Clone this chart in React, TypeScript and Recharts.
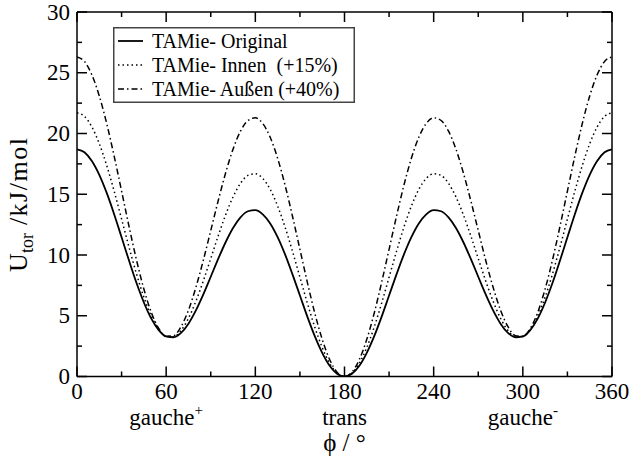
import React from "react";
import { LineChart, Line, XAxis, YAxis, Legend, Label } from "recharts";

// torsion angle grid, 5° steps
const phi = [
  0, 5, 10, 15, 20, 25, 30, 35, 40, 45, 50, 55, 60, 65, 70, 75, 80, 85, 90,
  95, 100, 105, 110, 115, 120, 125, 130, 135, 140, 145, 150, 155, 160, 165, 170, 175, 180,
  185, 190, 195, 200, 205, 210, 215, 220, 225, 230, 235, 240, 245, 250, 255, 260, 265, 270,
  275, 280, 285, 290, 295, 300, 305, 310, 315, 320, 325, 330, 335, 340, 345, 350, 355, 360,
];

// U_tor in kJ/mol
const uOriginal = [
  18.7, 18.46, 17.74, 16.6, 15.11, 13.36, 11.46, 9.54, 7.71, 6.09, 4.76, 3.82, 3.3, 3.23, 3.59, 4.35, 5.44, 6.76, 8.21,
  9.68, 11.05, 12.22, 13.09, 13.6, 13.69, 13.35, 12.6, 11.47, 10.05, 8.41, 6.67, 4.93, 3.32, 1.95, 0.89, 0.23, 0,
  0.23, 0.89, 1.95, 3.32, 4.93, 6.67, 8.41, 10.05, 11.47, 12.6, 13.35, 13.69, 13.6, 13.09, 12.22, 11.05, 9.68, 8.21,
  6.76, 5.44, 4.35, 3.59, 3.23, 3.3, 3.82, 4.76, 6.09, 7.71, 9.54, 11.46, 13.36, 15.11, 16.6, 17.74, 18.46, 18.7,
];

const uInnen = [
  21.7, 21.41, 20.54, 19.16, 17.36, 15.25, 12.96, 10.65, 8.46, 6.53, 4.96, 3.87, 3.3, 3.28, 3.79, 4.79, 6.19, 7.87, 9.71,
  11.57, 13.3, 14.78, 15.89, 16.55, 16.69, 16.3, 15.4, 14.03, 12.3, 10.3, 8.17, 6.04, 4.07, 2.39, 1.09, 0.28, 0,
  0.28, 1.09, 2.39, 4.07, 6.04, 8.17, 10.3, 12.3, 14.03, 15.4, 16.3, 16.69, 16.55, 15.89, 14.78, 13.3, 11.57, 9.71,
  7.87, 6.19, 4.79, 3.79, 3.28, 3.3, 3.87, 4.96, 6.53, 8.46, 10.65, 12.96, 15.25, 17.36, 19.16, 20.54, 21.41, 21.7,
];

const uAussen = [
  26.3, 25.93, 24.83, 23.09, 20.81, 18.14, 15.26, 12.36, 9.61, 7.2, 5.27, 3.95, 3.3, 3.36, 4.1, 5.46, 7.34, 9.57, 12.01,
  14.46, 16.75, 18.71, 20.19, 21.07, 21.29, 20.82, 19.69, 17.96, 15.75, 13.19, 10.47, 7.75, 5.22, 3.06, 1.4, 0.36, 0,
  0.36, 1.4, 3.06, 5.22, 7.75, 10.47, 13.19, 15.75, 17.96, 19.69, 20.82, 21.29, 21.07, 20.19, 18.71, 16.75, 14.46, 12.01,
  9.57, 7.34, 5.46, 4.1, 3.36, 3.3, 3.95, 5.27, 7.2, 9.61, 12.36, 15.26, 18.14, 20.81, 23.09, 24.83, 25.93, 26.3,
];

const xTicks = [0, 30, 60, 90, 120, 150, 180, 210, 240, 270, 300, 330, 360];
const yTicks = [0, 2.5, 5, 7.5, 10, 12.5, 15, 17.5, 20, 22.5, 25, 27.5, 30];

// conformer names under the minima
const conformers: Record<number, [string, string]> = {
  60: ["gauche", "+"],
  180: ["trans", ""],
  300: ["gauche", "-"],
};

const series = [
  { key: "original", name: "TAMie- Original", dash: undefined as string | undefined, width: 1.8 },
  { key: "innen", name: "TAMie- Innen  (+15%)", dash: "1.5 3", width: 1.5 },
  { key: "aussen", name: "TAMie- Außen (+40%)", dash: "6 3 1.5 3", width: 1.5 },
];

const rows = phi.map((p, i) => ({
  phi: p,
  original: uOriginal[i],
  innen: uInnen[i],
  aussen: uAussen[i],
}));

const FONT = "'Liberation Serif', 'Times New Roman', serif";
const AXIS = { stroke: "#000", strokeWidth: 1.5 };

const BottomTick = (props: any) => {
  const { x, y, payload } = props;
  const v = payload.value;
  const major = v % 60 === 0;
  const sub = conformers[v];
  return (
    <g>
      <line x1={x} y1={y} x2={x} y2={y - (major ? 10 : 5)} stroke="#000" strokeWidth={1.5} />
      {major && (
        <text x={x} y={y + 22.5} textAnchor="middle" fontSize={23} fontFamily={FONT} fill="#000">
          {v}
        </text>
      )}
      {sub && (
        <text x={x} y={y + 48.5} textAnchor="middle" fontSize={23} fontFamily={FONT} fill="#000">
          {sub[0]}
          {sub[1] && (
            <tspan fontSize={15} dy={-10}>
              {sub[1]}
            </tspan>
          )}
        </text>
      )}
    </g>
  );
};

const TopTick = (props: any) => {
  const { x, y, payload } = props;
  const major = payload.value % 60 === 0;
  return <line x1={x} y1={y} x2={x} y2={y + (major ? 10 : 5)} stroke="#000" strokeWidth={1.5} />;
};

const LeftTick = (props: any) => {
  const { x, y, payload } = props;
  const v = payload.value;
  const major = v % 5 === 0;
  return (
    <g>
      <line x1={x} y1={y} x2={x + (major ? 10 : 5)} y2={y} stroke="#000" strokeWidth={1.5} />
      {major && (
        <text x={x - 7} y={y + 7.5} textAnchor="end" fontSize={23} fontFamily={FONT} fill="#000">
          {v}
        </text>
      )}
    </g>
  );
};

const RightTick = (props: any) => {
  const { x, y, payload } = props;
  const major = payload.value % 5 === 0;
  return <line x1={x} y1={y} x2={x - (major ? 10 : 5)} y2={y} stroke="#000" strokeWidth={1.5} />;
};

const XTitle = (props: any) => {
  const { viewBox } = props;
  return (
    <text
      x={viewBox.x + viewBox.width / 2}
      y={viewBox.y + 74.5}
      textAnchor="middle"
      fontSize={25}
      fontFamily={FONT}
      fill="#000"
    >
      ϕ / °
    </text>
  );
};

const YTitle = (props: any) => {
  const { viewBox } = props;
  const cx = 27;
  const cy = viewBox.y + viewBox.height / 2 + 10;
  return (
    <text
      x={cx}
      y={cy}
      transform={`rotate(-90 ${cx} ${cy})`}
      textAnchor="middle"
      fontSize={26}
      fontFamily={FONT}
      fill="#000"
      xmlSpace="preserve"
      style={{ whiteSpace: "pre" }}
    >
      U
      <tspan fontSize={18} dy={6}>
        tor
      </tspan>
      <tspan dy={-6} letterSpacing={1.5}>
        {" /kJ/mol"}
      </tspan>
    </text>
  );
};

const LegendBox = () => (
  <svg width={242} height={76} style={{ display: "block" }}>
    <rect x={0.75} y={0.75} width={240.5} height={74.5} fill="#fff" stroke="#444" strokeWidth={1.5} />
    {series.map((s, i) => {
      const cy = 14 + i * 24;
      return (
        <g key={s.key}>
          <line x1={5} y1={cy} x2={30} y2={cy} stroke="#000" strokeWidth={s.width} strokeDasharray={s.dash} />
          <text
            x={39}
            y={cy + 6.5}
            fontSize={20}
            fontFamily={FONT}
            fill="#000"
            xmlSpace="preserve"
            style={{ whiteSpace: "pre" }}
          >
            {s.name}
          </text>
        </g>
      );
    })}
  </svg>
);

export default function App() {
  return (
    <div style={{ position: "absolute", left: 0, top: 0, width: 631, height: 462, background: "#fff" }}>
      <LineChart width={631} height={462} data={rows} margin={{ top: 11, right: 18, bottom: 84.5, left: 76 }}>
        <XAxis
          xAxisId="b"
          dataKey="phi"
          type="number"
          domain={[0, 360]}
          allowDataOverflow
          ticks={xTicks}
          interval={0}
          height={1}
          tickSize={0}
          tickMargin={0}
          tickLine={false}
          axisLine={AXIS}
          tick={BottomTick}
        >
          <Label content={XTitle} />
        </XAxis>
        <XAxis
          xAxisId="t"
          orientation="top"
          dataKey="phi"
          type="number"
          domain={[0, 360]}
          allowDataOverflow
          ticks={xTicks}
          interval={0}
          height={1}
          tickSize={0}
          tickMargin={0}
          tickLine={false}
          axisLine={AXIS}
          tick={TopTick}
        />
        <YAxis
          yAxisId="l"
          type="number"
          domain={[0, 30]}
          allowDataOverflow
          ticks={yTicks}
          interval={0}
          width={1}
          tickSize={0}
          tickMargin={0}
          tickLine={false}
          axisLine={AXIS}
          tick={LeftTick}
        >
          <Label content={YTitle} />
        </YAxis>
        <YAxis
          yAxisId="r"
          orientation="right"
          type="number"
          domain={[0, 30]}
          allowDataOverflow
          ticks={yTicks}
          interval={0}
          width={1}
          tickSize={0}
          tickMargin={0}
          tickLine={false}
          axisLine={AXIS}
          tick={RightTick}
        />
        <Legend
          layout="vertical"
          align="center"
          verticalAlign="middle"
          content={LegendBox}
          wrapperStyle={{ left: 113, top: 27, width: 242, height: 76 }}
        />
        {series.map((s) => (
          <Line
            key={s.key}
            xAxisId="b"
            yAxisId="l"
            type="monotone"
            dataKey={s.key}
            name={s.name}
            stroke="#000"
            strokeWidth={s.width}
            strokeDasharray={s.dash}
            dot={false}
            activeDot={false}
            isAnimationActive={false}
          />
        ))}
      </LineChart>
    </div>
  );
}
